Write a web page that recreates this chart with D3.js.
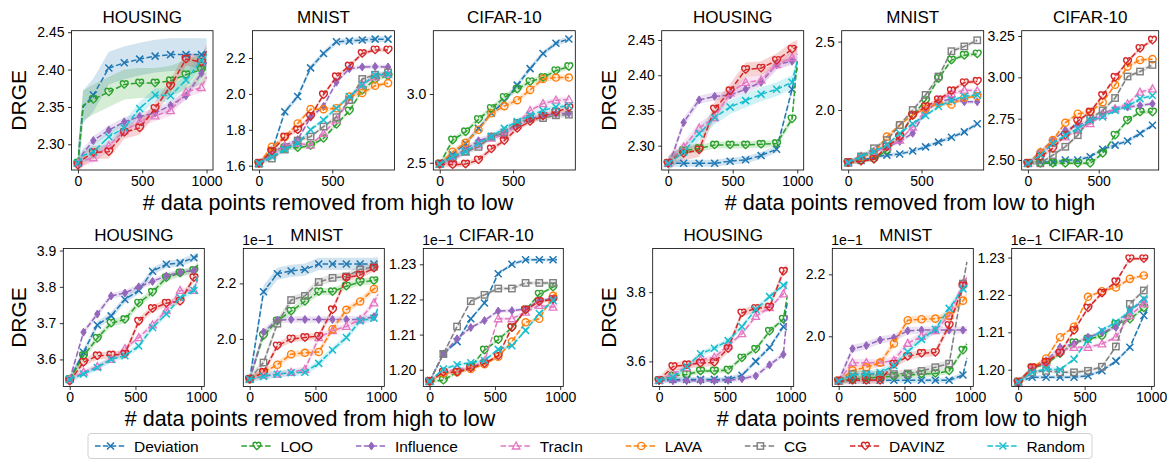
<!DOCTYPE html>
<html>
<head>
<meta charset="utf-8">
<script src="https://cdn.jsdelivr.net/npm/d3@7/dist/d3.min.js"></script>
<style>
  body { margin: 0; background: #fff; }
  svg { display: block; }
  text { font-family: "Liberation Sans", Arial, Helvetica, sans-serif; fill: #000; }
</style>
</head>
<body>
<svg id="chart" width="1167" height="461"></svg>
<script>
// methods, in legend order
const methods = ['Deviation', 'LOO', 'Influence', 'TracIn', 'LAVA', 'CG', 'DAVINZ', 'Random'];
const colors  = ['#1f77b4', '#2ca02c', '#9467bd', '#e377c2', '#ff7f0e', '#7f7f7f', '#d62728', '#17becf'];
const shapes  = ['x', 'heart', 'diamond', 'triangle', 'circle', 'square', 'heart', 'x'];

// x positions (number of data points removed)
const xTopHousing  = [0, 40, 120, 240, 360, 480, 600, 720, 840, 960, 1000];
const mkTopHousing = [0, 120, 240, 360, 480, 600, 720, 840, 960];
const xTopImage    = [0, 88, 176, 264, 352, 440, 528, 616, 704, 792, 880];
const xBottom      = [0, 105, 210, 315, 420, 525, 630, 735, 840, 945, 975];
const mkBottom     = [0, 105, 210, 315, 420, 525, 630, 735, 840, 945];

// tick labels
const xTicksFull  = [0, 500, 1000];
const xTicksShort = [0, 500];
const yTicksHousingTop = [2.30, 2.35, 2.40, 2.45];
const yTicksMnistTopHL = [1.6, 1.8, 2.0, 2.2];
const yTicksCifarTopHL = [2.5, 3.0];
const yTicksMnistTopLH = [2.0, 2.5];
const yTicksCifarTopLH = [2.50, 2.75, 3.00, 3.25];
const yTicksHousingBotHL = [3.6, 3.7, 3.8, 3.9];
const yTicksHousingBotLH = [3.6, 3.8];
const yTicksMnistBot = [2.0, 2.2];
const yTicksCifarBot = [1.20, 1.21, 1.22, 1.23];

// ---- top row, removed from high to low ----
const housingTopHL = {
  Deviation: [2.275, 2.35, 2.366, 2.402, 2.409, 2.414, 2.418, 2.42, 2.42, 2.42, 2.42],
  LOO:       [2.275, 2.352, 2.36, 2.37, 2.38, 2.382, 2.382, 2.385, 2.393, 2.40, 2.405],
  Influence: [2.275, 2.288, 2.305, 2.319, 2.33, 2.337, 2.342, 2.352, 2.365, 2.395, 2.41],
  TracIn:    [2.275, 2.278, 2.282, 2.298, 2.318, 2.33, 2.338, 2.345, 2.37, 2.376, 2.39],
  DAVINZ:    [2.272, 2.28, 2.289, 2.29, 2.316, 2.322, 2.348, 2.378, 2.414, 2.41, 2.425],
  Random:    [2.275, 2.285, 2.29, 2.31, 2.322, 2.348, 2.366, 2.365, 2.386, 2.412, 2.42]
};
const housingTopHLSd = { Deviation: 0.022, LOO: 0.02, Influence: 0.006, TracIn: 0.007, DAVINZ: 0.009, Random: 0.009 };

const mnistTopHL = {
  Deviation: [1.61, 1.68, 1.90, 1.985, 2.145, 2.225, 2.29, 2.295, 2.30, 2.305, 2.305],
  LOO:       [1.613, 1.68, 1.70, 1.70, 1.712, 1.752, 1.83, 1.905, 2.02, 2.08, 2.10],
  Influence: [1.613, 1.67, 1.712, 1.745, 1.87, 1.93, 2.065, 2.14, 2.15, 2.152, 2.15],
  TracIn:    [1.613, 1.66, 1.71, 1.725, 1.715, 1.78, 1.855, 1.965, 2.05, 2.095, 2.11],
  LAVA:      [1.613, 1.705, 1.76, 1.835, 1.915, 1.915, 1.92, 1.985, 2.005, 2.045, 2.06],
  CG:        [1.613, 1.64, 1.69, 1.74, 1.762, 1.818, 1.87, 1.965, 2.083, 2.107, 2.12],
  DAVINZ:    [1.613, 1.68, 1.76, 1.80, 1.875, 1.995, 2.095, 2.155, 2.225, 2.245, 2.245],
  Random:    [1.613, 1.65, 1.69, 1.725, 1.80, 1.855, 1.92, 1.985, 2.05, 2.105, 2.11]
};
const mnistTopHLSd = { Deviation: 0.016, LOO: 0.012, Influence: 0.012, TracIn: 0.012, LAVA: 0.012, CG: 0.012, DAVINZ: 0.012, Random: 0.012 };

const cifarTopHL = {
  Deviation: [2.49, 2.56, 2.64, 2.75, 2.86, 2.945, 3.065, 3.185, 3.295, 3.37, 3.40],
  LOO:       [2.49, 2.665, 2.725, 2.815, 2.895, 2.975, 3.035, 3.09, 3.12, 3.17, 3.20],
  Influence: [2.49, 2.535, 2.60, 2.66, 2.69, 2.715, 2.77, 2.82, 2.845, 2.855, 2.86],
  TracIn:    [2.49, 2.52, 2.58, 2.63, 2.68, 2.70, 2.785, 2.88, 2.93, 2.955, 2.96],
  LAVA:      [2.49, 2.58, 2.645, 2.74, 2.86, 2.912, 2.955, 3.03, 3.11, 3.12, 3.12],
  CG:        [2.49, 2.535, 2.58, 2.615, 2.69, 2.72, 2.79, 2.82, 2.825, 2.845, 2.85],
  DAVINZ:    [2.49, 2.485, 2.49, 2.52, 2.60, 2.66, 2.75, 2.80, 2.84, 2.87, 2.90],
  Random:    [2.49, 2.545, 2.58, 2.64, 2.69, 2.75, 2.80, 2.845, 2.88, 2.905, 2.915]
};
const cifarTopHLSd = { Deviation: 0.02, LOO: 0.02, Influence: 0.02, TracIn: 0.02, LAVA: 0.02, CG: 0.02, DAVINZ: 0.02, Random: 0.02 };

// ---- top row, removed from low to high ----
const housingTopLH = {
  Deviation: [2.275, 2.275, 2.275, 2.275, 2.275, 2.278, 2.28, 2.286, 2.295, 2.38, 2.41],
  LOO:       [2.275, 2.285, 2.293, 2.296, 2.301, 2.301, 2.301, 2.302, 2.303, 2.338, 2.42],
  Influence: [2.275, 2.29, 2.333, 2.365, 2.37, 2.372, 2.38, 2.39, 2.415, 2.42, 2.425],
  TracIn:    [2.275, 2.285, 2.298, 2.325, 2.34, 2.375, 2.39, 2.393, 2.415, 2.425, 2.43],
  DAVINZ:    [2.275, 2.282, 2.289, 2.294, 2.352, 2.378, 2.408, 2.41, 2.421, 2.437, 2.44],
  Random:    [2.275, 2.28, 2.291, 2.317, 2.34, 2.355, 2.364, 2.373, 2.38, 2.39, 2.42]
};
const housingTopLHSd = { Deviation: 0.005, LOO: 0.005, Influence: 0.006, TracIn: 0.008, DAVINZ: 0.01, Random: 0.01 };

const mnistTopLH = {
  Deviation: [1.615, 1.63, 1.655, 1.67, 1.678, 1.70, 1.73, 1.765, 1.80, 1.84, 1.90],
  LOO:       [1.615, 1.63, 1.64, 1.705, 1.805, 1.96, 2.07, 2.23, 2.365, 2.40, 2.41],
  Influence: [1.615, 1.66, 1.695, 1.73, 1.77, 1.83, 1.99, 2.06, 2.08, 2.06, 2.06],
  TracIn:    [1.615, 1.66, 1.695, 1.73, 1.78, 1.875, 2.0, 2.07, 2.12, 2.145, 2.14],
  LAVA:      [1.615, 1.655, 1.685, 1.805, 1.89, 1.965, 2.01, 2.05, 2.04, 2.09, 2.10],
  CG:        [1.615, 1.66, 1.72, 1.78, 1.89, 2.0, 2.11, 2.245, 2.43, 2.465, 2.51],
  DAVINZ:    [1.615, 1.625, 1.64, 1.73, 1.805, 1.96, 2.025, 2.075, 2.14, 2.20, 2.21],
  Random:    [1.615, 1.66, 1.695, 1.745, 1.83, 1.90, 1.96, 2.025, 2.07, 2.10, 2.11]
};
const mnistTopLHSd = { Deviation: 0.015, LOO: 0.015, Influence: 0.015, TracIn: 0.015, LAVA: 0.015, CG: 0.015, DAVINZ: 0.015, Random: 0.015 };

const cifarTopLH = {
  Deviation: [2.48, 2.49, 2.485, 2.50, 2.50, 2.52, 2.565, 2.59, 2.615, 2.66, 2.71],
  LOO:       [2.48, 2.48, 2.48, 2.48, 2.48, 2.48, 2.54, 2.65, 2.74, 2.79, 2.79],
  Influence: [2.48, 2.55, 2.62, 2.68, 2.71, 2.74, 2.78, 2.81, 2.82, 2.83, 2.84],
  TracIn:    [2.48, 2.54, 2.60, 2.64, 2.68, 2.72, 2.77, 2.81, 2.84, 2.91, 2.93],
  LAVA:      [2.48, 2.545, 2.62, 2.725, 2.78, 2.79, 2.85, 2.955, 3.065, 3.105, 3.11],
  CG:        [2.48, 2.48, 2.53, 2.58, 2.65, 2.75, 2.80, 2.875, 3.005, 3.035, 3.075],
  DAVINZ:    [2.48, 2.52, 2.57, 2.65, 2.735, 2.79, 2.89, 3.0, 3.095, 3.175, 3.225],
  Random:    [2.48, 2.53, 2.60, 2.65, 2.69, 2.74, 2.76, 2.80, 2.825, 2.87, 2.89]
};
const cifarTopLHSd = { Deviation: 0.012, LOO: 0.012, Influence: 0.012, TracIn: 0.012, LAVA: 0.012, CG: 0.012, DAVINZ: 0.012, Random: 0.012 };

// ---- bottom row, removed from high to low ----
const housingBotHL = {
  Deviation: [3.545, 3.62, 3.695, 3.72, 3.765, 3.79, 3.843, 3.862, 3.866, 3.88, 3.885],
  LOO:       [3.545, 3.61, 3.658, 3.70, 3.71, 3.755, 3.785, 3.825, 3.838, 3.845, 3.86],
  Influence: [3.545, 3.675, 3.725, 3.775, 3.783, 3.80, 3.815, 3.83, 3.84, 3.845, 3.85],
  TracIn:    [3.545, 3.565, 3.58, 3.60, 3.63, 3.66, 3.695, 3.735, 3.79, 3.79, 3.82],
  DAVINZ:    [3.54, 3.592, 3.61, 3.612, 3.615, 3.705, 3.74, 3.755, 3.76, 3.825, 3.83],
  Random:    [3.545, 3.56, 3.578, 3.60, 3.61, 3.637, 3.688, 3.725, 3.77, 3.79, 3.83]
};
const housingBotHLSd = { Deviation: 0.01, LOO: 0.01, Influence: 0.008, TracIn: 0.008, DAVINZ: 0.01, Random: 0.008 };

const mnistBotHL = {
  Deviation: [1.855, 2.17, 2.235, 2.245, 2.25, 2.27, 2.27, 2.27, 2.27, 2.27, 2.275],
  LOO:       [1.855, 2.012, 2.065, 2.10, 2.135, 2.17, 2.17, 2.19, 2.205, 2.21, 2.215],
  Influence: [1.855, 2.025, 2.068, 2.07, 2.07, 2.07, 2.07, 2.07, 2.07, 2.08, 2.09],
  TracIn:    [1.855, 1.87, 1.873, 1.88, 1.89, 2.005, 2.03, 2.045, 2.07, 2.13, 2.16],
  LAVA:      [1.855, 1.88, 1.907, 1.945, 1.95, 1.953, 2.035, 2.105, 2.135, 2.18, 2.19],
  CG:        [1.855, 1.915, 2.055, 2.14, 2.155, 2.205, 2.22, 2.225, 2.25, 2.26, 2.265],
  DAVINZ:    [1.855, 1.88, 1.975, 2.0, 2.005, 2.01, 2.105, 2.22, 2.23, 2.255, 2.26],
  Random:    [1.855, 1.865, 1.873, 1.878, 1.88, 1.912, 1.96, 2.005, 2.065, 2.075, 2.11]
};
const mnistBotHLSd = { Deviation: 0.022, LOO: 0.013, Influence: 0.012, TracIn: 0.012, LAVA: 0.012, CG: 0.014, DAVINZ: 0.012, Random: 0.012 };

const cifarBotHL = {
  Deviation: [1.1967, 1.2045, 1.208, 1.2145, 1.219, 1.2273, 1.230, 1.2313, 1.2313, 1.2313, 1.2313],
  LOO:       [1.1967, 1.197, 1.1993, 1.2007, 1.2056, 1.2085, 1.212, 1.217, 1.2215, 1.2235, 1.224],
  Influence: [1.1967, 1.2045, 1.2088, 1.212, 1.214, 1.2167, 1.2168, 1.2173, 1.2197, 1.2202, 1.2202],
  TracIn:    [1.1967, 1.1993, 1.2002, 1.2007, 1.2025, 1.2145, 1.2145, 1.2164, 1.2183, 1.2178, 1.2185],
  LAVA:      [1.1967, 1.199, 1.1993, 1.2002, 1.2016, 1.2037, 1.208, 1.2135, 1.2145, 1.221, 1.222],
  CG:        [1.1967, 1.2045, 1.2123, 1.2195, 1.2213, 1.2231, 1.2231, 1.2247, 1.2247, 1.2247, 1.2247],
  DAVINZ:    [1.1967, 1.1993, 1.1993, 1.2005, 1.2018, 1.204, 1.212, 1.217, 1.2194, 1.220, 1.2205],
  Random:    [1.1967, 1.2002, 1.2014, 1.202, 1.2026, 1.2058, 1.2068, 1.2112, 1.216, 1.2197, 1.2205]
};
const cifarBotHLSd = { Deviation: 0.0005, LOO: 0.0005, Influence: 0.0005, TracIn: 0.0005, LAVA: 0.0005, CG: 0.0005, DAVINZ: 0.0005, Random: 0.0005 };

// ---- bottom row, removed from low to high ----
const housingBotLH = {
  Deviation: [3.545, 3.548, 3.548, 3.548, 3.548, 3.548, 3.56, 3.60, 3.64, 3.70, 3.77],
  LOO:       [3.545, 3.558, 3.562, 3.572, 3.572, 3.575, 3.61, 3.635, 3.687, 3.722, 3.79],
  Influence: [3.545, 3.544, 3.544, 3.544, 3.544, 3.545, 3.55, 3.558, 3.59, 3.62, 3.74],
  TracIn:    [3.545, 3.565, 3.582, 3.605, 3.612, 3.645, 3.68, 3.73, 3.755, 3.795, 3.83],
  DAVINZ:    [3.545, 3.585, 3.59, 3.595, 3.597, 3.637, 3.74, 3.753, 3.757, 3.86, 3.87],
  Random:    [3.545, 3.555, 3.585, 3.622, 3.638, 3.66, 3.70, 3.75, 3.787, 3.82, 3.825]
};
const housingBotLHSd = { Deviation: 0.007, LOO: 0.007, Influence: 0.007, TracIn: 0.007, DAVINZ: 0.011, Random: 0.008 };

const mnistBotLH = {
  Deviation: [1.856, 1.858, 1.858, 1.858, 1.858, 1.858, 1.858, 1.858, 1.858, 1.875, 1.93],
  LOO:       [1.856, 1.862, 1.866, 1.868, 1.871, 1.875, 1.878, 1.88, 1.888, 1.955, 1.975],
  Influence: [1.856, 1.96, 1.97, 1.988, 1.995, 2.018, 2.02, 2.02, 2.02, 2.02, 2.02],
  TracIn:    [1.856, 1.915, 1.915, 1.915, 1.922, 1.977, 2.0, 2.018, 2.067, 2.17, 2.19],
  LAVA:      [1.856, 1.89, 1.90, 1.915, 1.977, 2.052, 2.055, 2.057, 2.065, 2.115, 2.13],
  CG:        [1.856, 1.878, 1.878, 1.876, 1.878, 1.88, 1.888, 1.90, 1.912, 2.17, 2.24],
  DAVINZ:    [1.856, 1.858, 1.858, 1.858, 1.91, 1.935, 1.945, 1.948, 2.035, 2.163, 2.175],
  Random:    [1.856, 1.875, 1.878, 1.883, 1.905, 1.95, 1.99, 2.023, 2.09, 2.153, 2.165]
};
const mnistBotLHSd = { Deviation: 0.008, LOO: 0.01, Influence: 0.012, TracIn: 0.012, LAVA: 0.012, CG: 0.012, DAVINZ: 0.012, Random: 0.012 };

const cifarBotLH = {
  Deviation: [1.1967, 1.198, 1.198, 1.198, 1.198, 1.1984, 1.1997, 1.2023, 1.206, 1.2145, 1.2165],
  LOO:       [1.1967, 1.2005, 1.2015, 1.2043, 1.2072, 1.2082, 1.209, 1.2122, 1.2135, 1.2165, 1.2175],
  Influence: [1.1967, 1.2005, 1.2024, 1.206, 1.207, 1.2087, 1.21, 1.2113, 1.2158, 1.2185, 1.219],
  TracIn:    [1.1967, 1.2005, 1.202, 1.205, 1.206, 1.206, 1.2069, 1.2087, 1.2145, 1.2176, 1.218],
  LAVA:      [1.1967, 1.2005, 1.203, 1.2087, 1.2115, 1.2195, 1.221, 1.222, 1.2243, 1.2252, 1.2253],
  CG:        [1.1967, 1.1993, 1.1997, 1.1993, 1.1993, 1.1997, 1.2008, 1.2062, 1.2176, 1.2212, 1.2225],
  DAVINZ:    [1.1967, 1.2005, 1.202, 1.2045, 1.2105, 1.2165, 1.2205, 1.2235, 1.2297, 1.2297, 1.2297],
  Random:    [1.1967, 1.1993, 1.2002, 1.20, 1.2028, 1.208, 1.2105, 1.2127, 1.2158, 1.219, 1.2195]
};
const cifarBotLHSd = { Deviation: 0.0005, LOO: 0.0005, Influence: 0.0005, TracIn: 0.0005, LAVA: 0.0005, CG: 0.0005, DAVINZ: 0.0005, Random: 0.0005 };

// panel layout: [left, top, width, height]
const TOP = 30.7, TOP_H = 139.3, BOT = 248.5, BOT_H = 138;
const panels = [
  { box: [71.5, TOP, 141.5, TOP_H], title: 'HOUSING', xs: xTopHousing, mk: mkTopHousing, data: housingTopHL, sd: housingTopHLSd, yd: [2.2656, 2.452], yt: yTicksHousingTop, yf: '.2f', xt: xTicksFull },
  { box: [252.5, TOP, 142, TOP_H], title: 'MNIST', xs: xTopImage, mk: xTopImage, data: mnistTopHL, sd: mnistTopHLSd, yd: [1.576, 2.352], yt: yTicksMnistTopHL, yf: '.1f', xt: xTicksShort },
  { box: [433.3, TOP, 142, TOP_H], title: 'CIFAR-10', xs: xTopImage, mk: xTopImage, data: cifarTopHL, sd: cifarTopHLSd, yd: [2.447, 3.461], yt: yTicksCifarTopHL, yf: '.1f', xt: xTicksShort },
  { box: [661.7, TOP, 142, TOP_H], title: 'HOUSING', xs: xTopHousing, mk: mkTopHousing, data: housingTopLH, sd: housingTopLHSd, yd: [2.2655, 2.4632], yt: yTicksHousingTop, yf: '.2f', xt: xTicksFull },
  { box: [841.7, TOP, 142, TOP_H], title: 'MNIST', xs: xTopImage, mk: xTopImage, data: mnistTopLH, sd: mnistTopLHSd, yd: [1.561, 2.58], yt: yTicksMnistTopLH, yf: '.1f', xt: xTicksShort },
  { box: [1021.7, TOP, 137, TOP_H], title: 'CIFAR-10', xs: xTopImage, mk: xTopImage, data: cifarTopLH, sd: cifarTopLHSd, yd: [2.4395, 3.282], yt: yTicksCifarTopLH, yf: '.2f', xt: xTicksShort },
  { box: [63.3, BOT, 141, BOT_H], title: 'HOUSING', xs: xBottom, mk: mkBottom, data: housingBotHL, sd: housingBotHLSd, yd: [3.5254, 3.9056], yt: yTicksHousingBotHL, yf: '.1f', xt: xTicksFull },
  { box: [243.3, BOT, 141, BOT_H], title: 'MNIST', xs: xBottom, mk: mkBottom, data: mnistBotHL, sd: mnistBotHLSd, yd: [1.8287, 2.3257], yt: yTicksMnistBot, yf: '.1f', xt: xTicksFull, offset: true },
  { box: [423.3, BOT, 140, BOT_H], title: 'CIFAR-10', xs: xBottom, mk: mkBottom, data: cifarBotHL, sd: cifarBotHLSd, yd: [1.19523, 1.23449], yt: yTicksCifarBot, yf: '.2f', xt: xTicksFull, offset: true },
  { box: [652.7, BOT, 141, BOT_H], title: 'HOUSING', xs: xBottom, mk: mkBottom, data: housingBotLH, sd: housingBotLHSd, yd: [3.5275, 3.926], yt: yTicksHousingBotLH, yf: '.1f', xt: xTicksFull },
  { box: [832.3, BOT, 141, BOT_H], title: 'MNIST', xs: xBottom, mk: mkBottom, data: mnistBotLH, sd: mnistBotLHSd, yd: [1.838, 2.2833], yt: yTicksMnistBot, yf: '.1f', xt: xTicksFull, offset: true },
  { box: [1011.7, BOT, 142.6, BOT_H], title: 'CIFAR-10', xs: xBottom, mk: mkBottom, data: cifarBotLH, sd: cifarBotLHSd, yd: [1.19551, 1.23242], yt: yTicksCifarBot, yf: '.2f', xt: xTicksFull, offset: true }
];

const svg = d3.select('#chart');
const FONT = '"Liberation Sans", Arial, Helvetica, sans-serif';

const heartPath = 'M0,3.6 C-1.2,2.6 -3.9,0.6 -3.9,-1.4 C-3.9,-3.1 -2.6,-3.8 -1.7,-3.8 C-0.9,-3.8 -0.3,-3.3 0,-2.6 C0.3,-3.3 0.9,-3.8 1.7,-3.8 C2.6,-3.8 3.9,-3.1 3.9,-1.4 C3.9,0.6 1.2,2.6 0,3.6 Z';

function drawMarker(g, shape, color, x, y) {
  const m = g.append('g').attr('transform', `translate(${x},${y})`);
  if (shape === 'x') {
    m.append('path').attr('d', 'M-3.5,-3.5L3.5,3.5M-3.5,3.5L3.5,-3.5')
      .attr('stroke', color).attr('stroke-width', 1.5).attr('fill', 'none');
  } else if (shape === 'circle') {
    m.append('circle').attr('r', 3.6).attr('stroke', color).attr('stroke-width', 1.4).attr('fill', 'none');
  } else if (shape === 'square') {
    m.append('rect').attr('x', -3.2).attr('y', -3.2).attr('width', 6.4).attr('height', 6.4)
      .attr('stroke', color).attr('stroke-width', 1.4).attr('fill', 'none');
  } else if (shape === 'triangle') {
    m.append('path').attr('d', 'M0,-4L3.8,3L-3.8,3Z')
      .attr('stroke', color).attr('stroke-width', 1.3).attr('fill', 'none');
  } else if (shape === 'diamond') {
    m.append('path').attr('d', 'M0,-4L2.7,0L0,4L-2.7,0Z')
      .attr('stroke', color).attr('stroke-width', 1).attr('fill', color);
  } else if (shape === 'heart') {
    m.append('path').attr('d', heartPath)
      .attr('stroke', color).attr('stroke-width', 1.4).attr('fill', 'none');
  }
}

panels.forEach((p, pi) => {
  const [left, top, w, h] = p.box;
  const xmax = p.xs[p.xs.length - 1];
  const x = d3.scaleLinear().domain([-0.05 * xmax, 1.05 * xmax]).range([left, left + w]);
  const y = d3.scaleLinear().domain(p.yd).range([top + h, top]);

  const g = svg.append('g');
  const clipId = 'clip' + pi;
  svg.append('clipPath').attr('id', clipId)
    .append('rect').attr('x', left).attr('y', top).attr('width', w).attr('height', h);

  const plot = g.append('g').attr('clip-path', `url(#${clipId})`);
  const active = methods.map((m, i) => ({ m, i })).filter(d => p.data[d.m]);

  // bands
  active.forEach(({ m, i }) => {
    const vals = p.data[m];
    const s = p.sd[m];
    const area = d3.area()
      .x((d, k) => x(p.xs[k]))
      .y0(d => y(d - s))
      .y1(d => y(d + s));
    plot.append('path').attr('d', area(vals))
      .attr('fill', colors[i]).attr('fill-opacity', 0.2).attr('stroke', 'none');
  });

  // lines and markers
  active.forEach(({ m, i }) => {
    const vals = p.data[m];
    const line = d3.line().x((d, k) => x(p.xs[k])).y(d => y(d));
    plot.append('path').attr('d', line(vals))
      .attr('fill', 'none').attr('stroke', colors[i]).attr('stroke-width', 1.5)
      .attr('stroke-dasharray', '5.5,2.4');
    vals.forEach((v, k) => {
      if (p.mk.includes(p.xs[k])) drawMarker(plot, shapes[i], colors[i], x(p.xs[k]), y(v));
    });
  });

  // axes
  const xa = g.append('g').attr('transform', `translate(0,${top + h})`)
    .call(d3.axisBottom(x).tickValues(p.xt).tickFormat(d3.format('d')).tickSize(3.5).tickPadding(2.5).tickSizeOuter(0));
  const ya = g.append('g').attr('transform', `translate(${left},0)`)
    .call(d3.axisLeft(y).tickValues(p.yt).tickFormat(d3.format(p.yf)).tickSize(3.5).tickPadding(3.5).tickSizeOuter(0));
  [xa, ya].forEach(a => {
    a.select('.domain').remove();
    a.selectAll('line').attr('stroke', '#000').attr('stroke-width', 0.8);
    a.selectAll('text').attr('font-size', 14).attr('font-family', FONT).attr('fill', '#000');
  });

  g.append('rect').attr('x', left).attr('y', top).attr('width', w).attr('height', h)
    .attr('fill', 'none').attr('stroke', '#000').attr('stroke-width', 0.8);

  g.append('text').attr('x', left + w / 2 + (p.offset ? 3 : 0)).attr('y', top - 7.5)
    .attr('text-anchor', 'middle').attr('font-size', 17).text(p.title);

  if (p.offset) {
    g.append('text').attr('x', left - 1).attr('y', top - 4)
      .attr('font-size', 14).text('1e\u22121');
  }
});

// y labels
[[18.5, 100.3], [608.5, 100.3], [18.5, 317.5], [608.5, 317.5]].forEach(([cx, cy]) => {
  svg.append('text').attr('transform', `translate(${cx},${cy}) rotate(-90)`)
    .attr('text-anchor', 'middle').attr('dominant-baseline', 'central')
    .attr('font-size', 21).text('DRGE');
});

// x labels
[[328, 209.5, 'high to low'], [910, 209.5, 'low to high'], [310, 426, 'high to low'], [902, 426, 'low to high']]
  .forEach(([cx, by, t]) => {
    svg.append('text').attr('x', cx).attr('y', by).attr('text-anchor', 'middle')
      .attr('font-size', 21.5).text('# data points removed from ' + t);
  });

// legend
const lg = svg.append('g');
const LX0 = 88, LX1 = 1092, LY0 = 433.5, LY1 = 458.5, LFS = 15.5;
lg.append('rect').attr('x', LX0).attr('y', LY0).attr('width', LX1 - LX0).attr('height', LY1 - LY0)
  .attr('rx', 3).attr('fill', '#fff').attr('stroke', '#cccccc').attr('stroke-width', 0.9);
const handleLen = 31, handlePad = 8;
const labels = methods.map(m => lg.append('text').attr('font-size', LFS).attr('dominant-baseline', 'central').text(m));
const widths = labels.map(t => t.node().getComputedTextLength());
const inner = widths.reduce((a, b) => a + b, 0) + methods.length * (handleLen + handlePad);
const gap = (LX1 - LX0 - 14 - inner) / (methods.length - 1);
let cx = LX0 + 7;
const cy = (LY0 + LY1) / 2;
methods.forEach((m, i) => {
  lg.append('line').attr('x1', cx).attr('x2', cx + handleLen).attr('y1', cy).attr('y2', cy)
    .attr('stroke', colors[i]).attr('stroke-width', 1.5).attr('stroke-dasharray', '5.5,2.4');
  drawMarker(lg, shapes[i], colors[i], cx + handleLen / 2, cy);
  labels[i].attr('x', cx + handleLen + handlePad).attr('y', cy + 0.5);
  cx += handleLen + handlePad + widths[i] + gap;
});
</script>
</body>
</html>
